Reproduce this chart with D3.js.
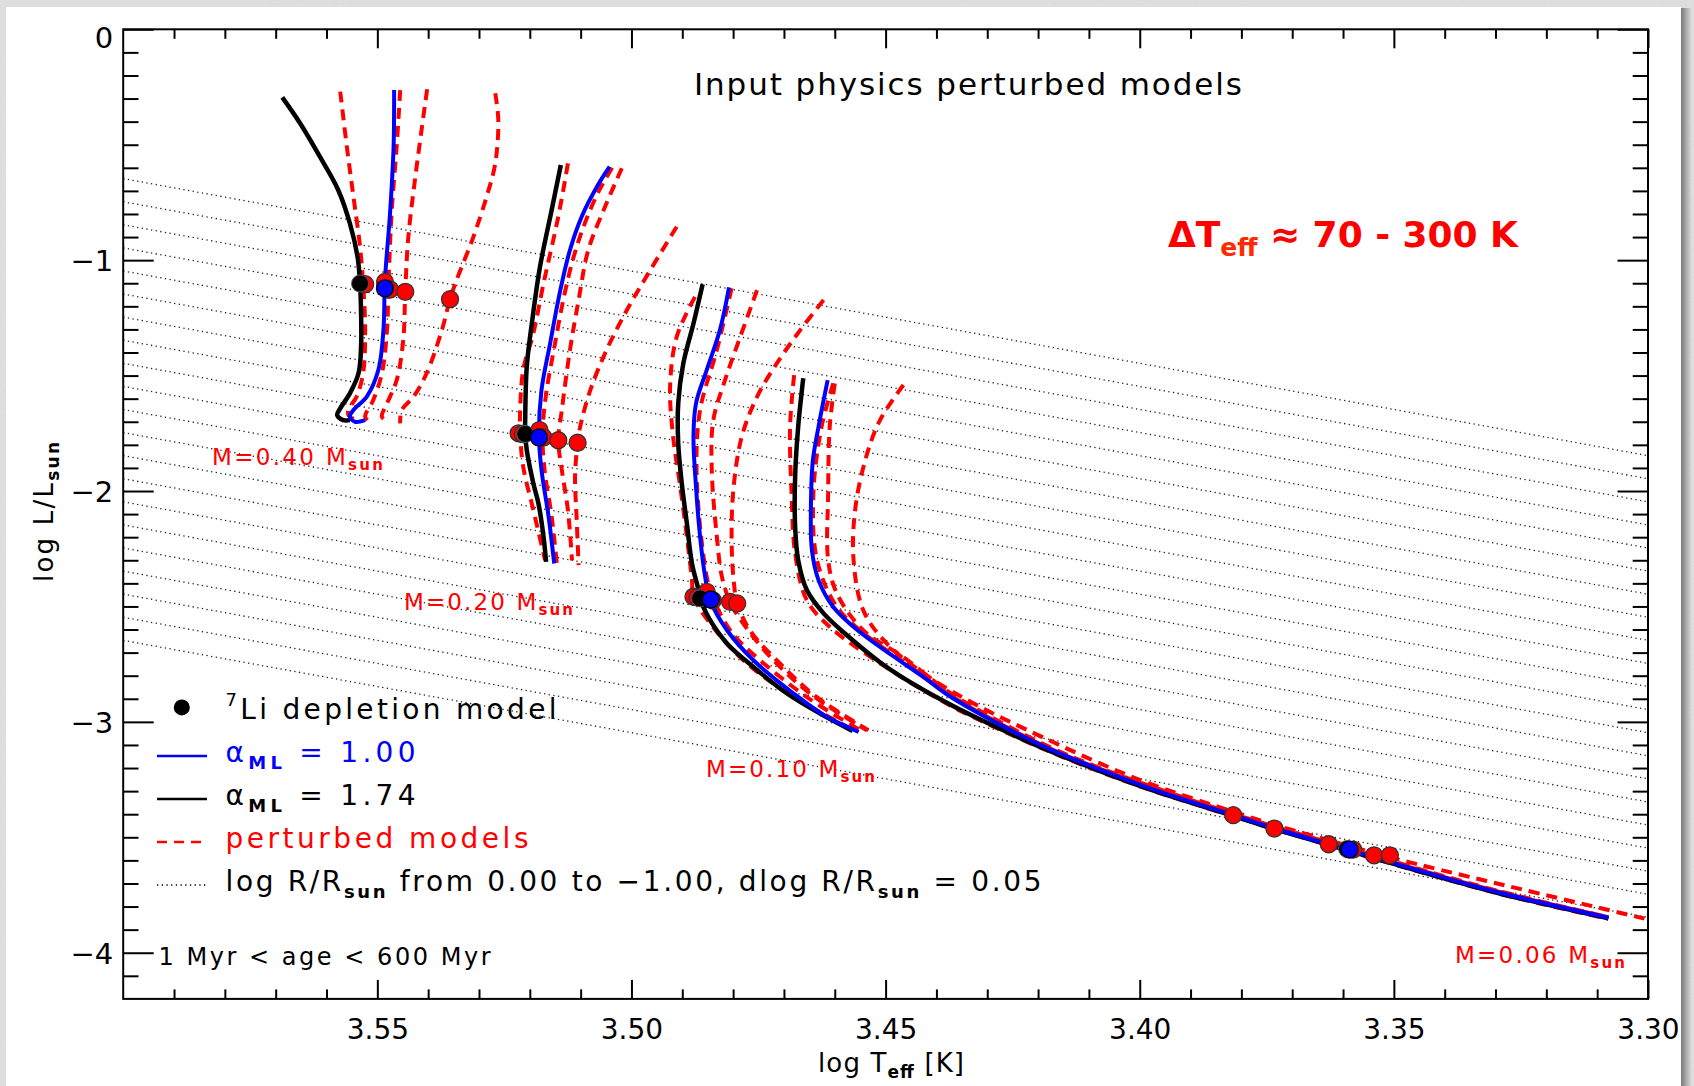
<!DOCTYPE html>
<html><head><meta charset="utf-8">
<script src="https://cdn.jsdelivr.net/npm/d3@7"></script>
<style>body{margin:0;background:#fff}svg{display:block}</style>
</head><body>
<script>
// ---------------- DATA ----------------
const xMajorTicks = [3.55, 3.50, 3.45, 3.40, 3.35, 3.30];
const xTickLabels = ["3.55", "3.50", "3.45", "3.40", "3.35", "3.30"];
const yMajorTicks = [0, -1, -2, -3, -4];
const yTickLabels = ["0", "\u22121", "\u22122", "\u22123", "\u22124"];
const logRValues = [0.00, -0.05, -0.10, -0.15, -0.20, -0.25, -0.30, -0.35, -0.40, -0.45, -0.50,
                    -0.55, -0.60, -0.65, -0.70, -0.75, -0.80, -0.85, -0.90, -0.95, -1.00];
const logTsun = 3.7617;

// M = 0.40
const black40 = [[3.5687,-0.295],[3.5652,-0.407],[3.5613,-0.552],[3.5577,-0.696],[3.5554,-0.841],[3.5539,-0.985],[3.5534,-1.101],[3.5532,-1.230],[3.5532,-1.375],[3.5537,-1.490],[3.5554,-1.577],[3.5573,-1.642],[3.5579,-1.671],[3.5567,-1.693],[3.5554,-1.693]];
const blue40 = [[3.5467,-0.263],[3.5468,-0.509],[3.5475,-0.797],[3.5485,-1.086],[3.5488,-1.303],[3.5498,-1.476],[3.5521,-1.592],[3.5547,-1.649],[3.5554,-1.678],[3.5544,-1.700],[3.5524,-1.693]];
const red40a = [[3.5573,-0.270],[3.5560,-0.509],[3.5547,-0.725],[3.5534,-0.942],[3.5528,-1.101],[3.5524,-1.303],[3.5528,-1.490],[3.5541,-1.592],[3.5557,-1.649],[3.5556,-1.675],[3.5543,-1.690]];
const red40b = [[3.5455,-0.263],[3.5462,-0.509],[3.5472,-0.797],[3.5478,-1.101],[3.5481,-1.303],[3.5491,-1.490],[3.5508,-1.606],[3.5524,-1.678],[3.5514,-1.702]];
const red40c = [[3.5402,-0.260],[3.5413,-0.436],[3.5426,-0.653],[3.5439,-0.899],[3.5445,-1.130],[3.5449,-1.346],[3.5462,-1.520],[3.5481,-1.621],[3.5491,-1.678],[3.5478,-1.700]];
const red40d = [[3.5268,-0.277],[3.5262,-0.393],[3.5268,-0.581],[3.5285,-0.725],[3.5311,-0.899],[3.5344,-1.086],[3.5357,-1.169],[3.5373,-1.303],[3.5403,-1.490],[3.5429,-1.592],[3.5452,-1.649],[3.5455,-1.707]];
const dotsRed40 = [[3.5524,-1.104],[3.5485,-1.094],[3.5475,-1.127],[3.5445,-1.137],[3.5357,-1.169]];
const dotBlack40 = [3.5534,-1.101];
const dotBlue40 = [3.5485,-1.122];

// M = 0.20
const black20 = [[3.5139,-0.588],[3.5157,-0.783],[3.5180,-1.029],[3.5196,-1.274],[3.5206,-1.462],[3.5209,-1.678],[3.5209,-1.753],[3.5206,-1.823],[3.5193,-1.967],[3.5183,-2.054],[3.5173,-2.198],[3.5168,-2.307]];
const blue20 = [[3.5043,-0.595],[3.5068,-0.682],[3.5098,-0.812],[3.5121,-0.956],[3.5140,-1.130],[3.5160,-1.360],[3.5177,-1.563],[3.5182,-1.765],[3.5177,-1.909],[3.5163,-2.112],[3.5152,-2.314]];
const red20a = [[3.5125,-0.581],[3.5144,-0.812],[3.5173,-1.101],[3.5193,-1.317],[3.5213,-1.476],[3.5219,-1.649],[3.5219,-1.750],[3.5213,-1.895],[3.5193,-2.083],[3.5170,-2.299]];
const red20b = [[3.5019,-0.602],[3.5052,-0.769],[3.5085,-0.956],[3.5104,-1.173],[3.5121,-1.389],[3.5137,-1.649],[3.5144,-1.780],[3.5137,-1.909],[3.5125,-2.083],[3.5117,-2.300]];
const red20c = [[3.4911,-0.855],[3.4963,-1.043],[3.5009,-1.216],[3.5049,-1.389],[3.5081,-1.563],[3.5101,-1.722],[3.5106,-1.791],[3.5111,-1.938],[3.5108,-2.112],[3.5104,-2.321]];
const red20d = [[3.5038,-0.600],[3.5064,-0.700],[3.5090,-0.830],[3.5113,-0.980],[3.5132,-1.150],[3.5152,-1.380],[3.5168,-1.580],[3.5175,-1.750],[3.5171,-1.910],[3.5157,-2.110],[3.5147,-2.312]];
const dotsRed20 = [[3.5222,-1.750],[3.5214,-1.753],[3.5181,-1.736],[3.5173,-1.768],[3.5144,-1.780],[3.5106,-1.791]];
const dotBlack20 = [3.5209,-1.753];
const dotBlue20 = [3.5182,-1.768];

// M = 0.10
const black10 = [[3.4860,-1.104],[3.4878,-1.274],[3.4898,-1.447],[3.4908,-1.620],[3.4908,-1.794],[3.4901,-1.967],[3.4891,-2.140],[3.4881,-2.314],[3.4868,-2.429],[3.4865,-2.465],[3.4849,-2.545],[3.4812,-2.660],[3.4760,-2.762],[3.4694,-2.877],[3.4629,-2.964],[3.4565,-3.039]];
const blue10 = [[3.4808,-1.118],[3.4826,-1.303],[3.4852,-1.476],[3.4873,-1.620],[3.4878,-1.765],[3.4873,-1.982],[3.4865,-2.198],[3.4855,-2.372],[3.4845,-2.473],[3.4812,-2.603],[3.4760,-2.733],[3.4681,-2.877],[3.4616,-2.978],[3.4553,-3.043]];
const red10a = [[3.4875,-1.159],[3.4911,-1.332],[3.4924,-1.549],[3.4918,-1.765],[3.4904,-1.982],[3.4891,-2.198],[3.4881,-2.386],[3.4878,-2.458],[3.4845,-2.574],[3.4780,-2.733],[3.4681,-2.892],[3.4556,-3.043]];
const red10b = [[3.4803,-1.122],[3.4832,-1.389],[3.4865,-1.649],[3.4872,-1.909],[3.4859,-2.270],[3.4845,-2.429],[3.4806,-2.603],[3.4747,-2.733],[3.4650,-2.900],[3.4550,-3.036]];
const red10c = [[3.4753,-1.130],[3.4786,-1.332],[3.4816,-1.520],[3.4839,-1.693],[3.4842,-1.909],[3.4832,-2.198],[3.4822,-2.372],[3.4806,-2.480],[3.4780,-2.574],[3.4727,-2.718],[3.4649,-2.877],[3.4537,-3.036]];
const red10d = [[3.4622,-1.173],[3.4668,-1.303],[3.4714,-1.447],[3.4753,-1.592],[3.4783,-1.765],[3.4799,-1.982],[3.4803,-2.198],[3.4799,-2.386],[3.4792,-2.484],[3.4767,-2.603],[3.4708,-2.747],[3.4636,-2.892],[3.4534,-3.036]];
const dotsRed10 = [[3.4878,-2.458],[3.4870,-2.461],[3.4852,-2.437],[3.4840,-2.473],[3.4806,-2.480],[3.4792,-2.487]];
const dotBlack10 = [3.4865,-2.465];
const dotBlue10 = [3.4844,-2.470];

// M = 0.06
const black06 = [[3.4662,-1.512],[3.4672,-1.722],[3.4678,-1.938],[3.4678,-2.155],[3.4672,-2.299],[3.4655,-2.429],[3.4622,-2.530],[3.4576,-2.625],[3.4511,-2.742],[3.4471,-2.802],[3.4373,-2.925],[3.4275,-3.030],[3.4176,-3.127],[3.4078,-3.213],[3.3980,-3.292],[3.3816,-3.407],[3.3734,-3.465],[3.3587,-3.559],[3.3502,-3.614],[3.3297,-3.740],[3.3078,-3.851]];
const blue06 = [[3.4614,-1.520],[3.4632,-1.722],[3.4643,-1.866],[3.4647,-2.083],[3.4645,-2.256],[3.4632,-2.386],[3.4603,-2.502],[3.4550,-2.612],[3.4478,-2.726],[3.4424,-2.808],[3.4373,-2.890],[3.4275,-3.012],[3.4176,-3.119],[3.4078,-3.207],[3.3980,-3.288],[3.3816,-3.404],[3.3734,-3.462],[3.3587,-3.556],[3.3502,-3.611],[3.3297,-3.737],[3.3078,-3.848]];
const red06a = [[3.4680,-1.498],[3.4688,-1.722],[3.4685,-2.010],[3.4678,-2.270],[3.4655,-2.473],[3.4610,-2.588],[3.4511,-2.746],[3.4373,-2.929],[3.4275,-3.033],[3.4176,-3.130],[3.4078,-3.216],[3.3980,-3.294],[3.3816,-3.409],[3.3587,-3.561],[3.3297,-3.742],[3.3078,-3.853]];
const red06b = [[3.4603,-1.534],[3.4626,-1.722],[3.4642,-2.010],[3.4635,-2.299],[3.4596,-2.502],[3.4540,-2.622],[3.4470,-2.733],[3.4373,-2.885],[3.4275,-3.008],[3.4176,-3.116],[3.4078,-3.204],[3.3816,-3.401],[3.3587,-3.553],[3.3297,-3.734],[3.3078,-3.846]];
const red06c = [[3.4600,-1.534],[3.4610,-1.722],[3.4613,-2.010],[3.4613,-2.299],[3.4596,-2.443],[3.4544,-2.603],[3.4465,-2.720],[3.4373,-2.875],[3.4275,-3.000],[3.4176,-3.110],[3.4078,-3.200],[3.3816,-3.398],[3.3587,-3.549],[3.3297,-3.731],[3.3078,-3.845]];
const red06d = [[3.4465,-1.541],[3.4511,-1.693],[3.4540,-1.866],[3.4560,-2.083],[3.4563,-2.299],[3.4544,-2.516],[3.4498,-2.660],[3.4412,-2.810],[3.4314,-2.935],[3.4176,-3.082],[3.4078,-3.180],[3.3980,-3.268],[3.3816,-3.389],[3.3734,-3.447],[3.3587,-3.538],[3.3502,-3.590],[3.3297,-3.700],[3.3007,-3.852]];
const dotsRed06 = [[3.3816,-3.404],[3.3735,-3.462],[3.3628,-3.530],[3.3580,-3.553],[3.3539,-3.578],[3.3508,-3.578]];
const dotBlack06 = [3.3592,-3.551];
const dotBlue06 = [3.3587,-3.553];

const redTracks = [red40a, red40b, red40c, red40d, red20a, red20b, red20c, red20d, red10a, red10b, red10c, red10d, red06a, red06b, red06c, red06d];
const blackTracks = [black40, black20, black10, black06];
const blueTracks = [blue40, blue20, blue10, blue06];
const redDots = [].concat(dotsRed40, dotsRed20, dotsRed10, dotsRed06);
const blackDots = [dotBlack40, dotBlack20, dotBlack10, dotBlack06];
const blueDots = [dotBlue40, dotBlue20, dotBlue10, dotBlue06];

const massLabels = ["M=0.40 M", "M=0.20 M", "M=0.10 M", "M=0.06 M"];

// ---------------- DRAW ----------------
const W = 1694, H = 1086;
const svg = d3.select("body").append("svg").attr("width", W).attr("height", H);
const FONT = "'DejaVu Sans', 'Liberation Sans', sans-serif";

const defs = svg.append("defs");
const f = defs.append("filter").attr("id", "tex").attr("x", 0).attr("y", 0).attr("width", "100%").attr("height", "100%");
f.append("feTurbulence").attr("type", "fractalNoise").attr("baseFrequency", 0.9).attr("numOctaves", 2).attr("seed", 3);
f.append("feColorMatrix").attr("type", "matrix").attr("values", "0 0 0 0 0.55  0 0 0 0 0.55  0 0 0 0 0.55  0 0 0 0.6 0");
const g1 = defs.append("linearGradient").attr("id", "shadow").attr("x1", 0).attr("x2", 1);
g1.append("stop").attr("offset", 0).attr("stop-color", "#7a7a7a");
g1.append("stop").attr("offset", 1).attr("stop-color", "#d6d6d6");
defs.append("clipPath").attr("id", "plotclip").append("rect")
  .attr("x", 123.2).attr("y", 29.3).attr("width", 1648 - 123.2).attr("height", 998.9 - 29.3);

svg.append("rect").attr("width", W).attr("height", H).attr("fill", "#e2e2e2");
svg.append("rect").attr("width", W).attr("height", H).attr("filter", "url(#tex)").attr("opacity", 0.5);
svg.append("rect").attr("x", 1681).attr("y", 8).attr("width", 10).attr("height", H).attr("fill", "url(#shadow)");
svg.append("rect").attr("x", 6).attr("y", 7).attr("width", 1675).attr("height", H - 7).attr("fill", "#fff");

const x = d3.scaleLinear().domain([3.60, 3.30]).range([123.2, 1648]);
const y = d3.scaleLinear().domain([0, -4.2]).range([29.3, 998.9]);

// iso-radius dotted lines: log L = 2 log R + 4 (log T - log Tsun)
const plot = svg.append("g").attr("clip-path", "url(#plotclip)");
const line = d3.line().x(d => x(d[0])).y(d => y(d[1]));
logRValues.forEach(r => {
  const pts = [[3.60, 2 * r + 4 * (3.60 - logTsun)], [3.30, 2 * r + 4 * (3.30 - logTsun)]];
  plot.append("path").attr("d", line(pts)).attr("fill", "none")
    .attr("stroke", "#222").attr("stroke-width", 1.3).attr("stroke-dasharray", "1.3,3.4");
});

const curve = d3.line().x(d => x(d[0])).y(d => y(d[1])).curve(d3.curveCatmullRom.alpha(0.5));
redTracks.forEach(t => plot.append("path").attr("d", curve(t)).attr("fill", "none")
  .attr("stroke", "#ff0000").attr("stroke-width", 4).attr("stroke-dasharray", "11,7"));
blackTracks.forEach(t => plot.append("path").attr("d", curve(t)).attr("fill", "none")
  .attr("stroke", "#000").attr("stroke-width", 4.5).attr("stroke-linejoin", "round"));
blueTracks.forEach(t => plot.append("path").attr("d", curve(t)).attr("fill", "none")
  .attr("stroke", "#0000ff").attr("stroke-width", 4).attr("stroke-linejoin", "round"));

plot.selectAll("circle.rd").data(redDots).enter().append("circle")
  .attr("cx", d => x(d[0])).attr("cy", d => y(d[1])).attr("r", 8.5)
  .attr("fill", "#ff0000").attr("stroke", "#333").attr("stroke-width", 1.3);
plot.selectAll("circle.bk").data(blackDots).enter().append("circle")
  .attr("cx", d => x(d[0])).attr("cy", d => y(d[1])).attr("r", 8.5)
  .attr("fill", "#000").attr("stroke", "#555").attr("stroke-width", 1);
plot.selectAll("circle.bl").data(blueDots).enter().append("circle")
  .attr("cx", d => x(d[0])).attr("cy", d => y(d[1])).attr("r", 8.5)
  .attr("fill", "#0000ff").attr("stroke", "#000").attr("stroke-width", 1.3);

// frame & ticks
svg.append("rect").attr("x", 123.2).attr("y", 29.3).attr("width", 1648 - 123.2).attr("height", 998.9 - 29.3)
  .attr("fill", "none").attr("stroke", "#000").attr("stroke-width", 2);

const xMinor = d3.range(3.59, 3.3, -0.01).filter(v => Math.abs(v * 20 - Math.round(v * 20)) > 1e-6);
const yMinor = d3.range(-0.1, -4.2, -0.1).filter(v => Math.abs(v - Math.round(v)) > 1e-6);

function styleAxis(g) {
  g.select(".domain").remove();
  g.selectAll("line").attr("stroke", "#000").attr("stroke-width", 2);
}
svg.append("g").attr("transform", "translate(0,998.9)")
  .call(d3.axisBottom(x).tickValues(xMinor).tickSize(-9.5).tickFormat("")).call(styleAxis);
svg.append("g").attr("transform", "translate(0,29.3)")
  .call(d3.axisTop(x).tickValues(xMinor).tickSize(-9.5).tickFormat("")).call(styleAxis);
svg.append("g").attr("transform", "translate(0,29.3)")
  .call(d3.axisTop(x).tickValues(xMajorTicks).tickSize(-19).tickFormat("")).call(styleAxis);
const xb = svg.append("g").attr("transform", "translate(0,998.9)")
  .call(d3.axisBottom(x).tickValues(xMajorTicks).tickSize(-19).tickPadding(20)
    .tickFormat((d, i) => xTickLabels[i])).call(styleAxis);
xb.selectAll("text").attr("font-family", FONT).attr("font-size", 28).attr("fill", "#000");

svg.append("g").attr("transform", "translate(123.2,0)")
  .call(d3.axisLeft(y).tickValues(yMinor).tickSize(-15.3).tickFormat("")).call(styleAxis);
svg.append("g").attr("transform", "translate(1648,0)")
  .call(d3.axisRight(y).tickValues(yMinor).tickSize(-15.3).tickFormat("")).call(styleAxis);
svg.append("g").attr("transform", "translate(1648,0)")
  .call(d3.axisRight(y).tickValues(yMajorTicks).tickSize(-30.5).tickFormat("")).call(styleAxis);
const yl = svg.append("g").attr("transform", "translate(123.2,0)")
  .call(d3.axisLeft(y).tickValues(yMajorTicks).tickSize(-30.5).tickPadding(10)
    .tickFormat((d, i) => yTickLabels[i])).call(styleAxis);
yl.selectAll("text").attr("font-family", FONT).attr("font-size", 29).attr("fill", "#000")
  .attr("dy", (d) => d === 0 ? "0.62em" : "0.36em");

// axis titles
svg.append("text").attr("x", 891).attr("y", 1072).attr("text-anchor", "middle")
  .attr("font-family", FONT).attr("font-size", 26).attr("textLength", 146)
  .html('log T<tspan dy="6" font-size="17" font-weight="bold">eff</tspan><tspan dy="-6"> [K]</tspan>');
svg.append("text").attr("transform", "translate(53,512) rotate(-90)").attr("text-anchor", "middle")
  .attr("font-family", FONT).attr("font-size", 26).attr("textLength", 140)
  .html('log L/L<tspan dy="6" font-size="17" font-weight="bold">sun</tspan>');

// title & annotation
svg.append("text").attr("x", 694).attr("y", 95).attr("font-family", FONT).attr("font-size", 31)
  .attr("textLength", 548).attr("lengthAdjust", "spacing").text("Input physics perturbed models");
svg.append("text").attr("x", 1168).attr("y", 247).attr("font-family", FONT).attr("font-size", 36)
  .attr("font-weight", "bold").attr("fill", "#ff0000").attr("textLength", 350)
  .html('\u0394T<tspan dy="9" font-size="25" fill="#ff2a00">eff</tspan><tspan dy="-9"> \u2248 70 - 300 K</tspan>');

// mass labels
const massPos = [[212, 465, 171], [404, 610, 169], [706, 776.5, 169], [1455, 962.7, 170]];
massLabels.forEach((t, i) => {
  svg.append("text").attr("x", massPos[i][0]).attr("y", massPos[i][1]).attr("font-family", FONT)
    .attr("font-size", 23).attr("fill", "#ff0000").attr("textLength", massPos[i][2])
    .html(t + '<tspan dy="5" font-size="15" font-weight="bold">sun</tspan>');
});

// legend
svg.append("circle").attr("cx", 181.8).attr("cy", 707.4).attr("r", 8).attr("fill", "#000");
svg.append("text").attr("x", 225.5).attr("y", 718.6).attr("font-family", FONT).attr("font-size", 28)
  .attr("textLength", 331)
  .html('<tspan font-size="18" dy="-13">7</tspan><tspan dy="13">Li depletion model</tspan>');
const legendLines = [
  {y: 756, color: "#0000ff", dash: null, txt: '\u03b1<tspan dy="7" font-size="18" font-weight="bold">ML</tspan><tspan dy="-7"> = 1.00</tspan>', len: 190, ty: 761.6},
  {y: 799, color: "#000", dash: null, txt: '\u03b1<tspan dy="7" font-size="18" font-weight="bold">ML</tspan><tspan dy="-7"> = 1.74</tspan>', len: 190, ty: 804.5},
  {y: 842, color: "#ff0000", dash: "10,7", txt: 'perturbed models', len: 303, ty: 847.5},
  {y: 885, color: "#000", dash: "1.3,3.4", txt: 'log R/R<tspan dy="7" font-size="18" font-weight="bold">sun</tspan><tspan dy="-7"> from 0.00 to \u22121.00, dlog R/R</tspan><tspan dy="7" font-size="18" font-weight="bold">sun</tspan><tspan dy="-7"> = 0.05</tspan>', len: 816, ty: 890.5}
];
legendLines.forEach(l => {
  svg.append("line").attr("x1", 157).attr("x2", 207).attr("y1", l.y).attr("y2", l.y)
    .attr("stroke", l.color).attr("stroke-width", l.dash === "1.3,3.4" ? 1.3 : 2.5)
    .attr("stroke-dasharray", l.dash);
  svg.append("text").attr("x", 225.5).attr("y", l.ty).attr("font-family", FONT).attr("font-size", 28)
    .attr("fill", l.color).attr("textLength", l.len).html(l.txt);
});
svg.append("text").attr("x", 158.5).attr("y", 965).attr("font-family", FONT).attr("font-size", 24)
  .attr("textLength", 332).text("1 Myr < age < 600 Myr");
</script>
</body></html>
